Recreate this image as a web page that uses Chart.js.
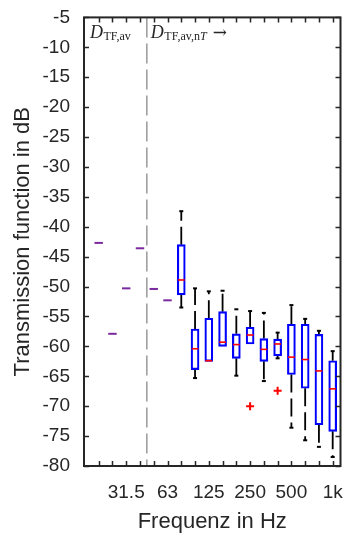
<!DOCTYPE html>
<html>
<head>
<meta charset="utf-8">
<script src="https://cdn.jsdelivr.net/npm/chart.js@4.4.1/dist/chart.umd.min.js"></script>
<style>
  html, body { margin: 0; padding: 0; background: #fff; }
</style>
</head>
<body>
<canvas id="tfChart" width="350" height="539"></canvas>
<script>
// third-octave bands, 20 Hz .. 1 kHz
const bandLabels = ['20', '25', '31.5', '40', '50', '63', '80', '100', '125', '160', '200', '250', '315', '400', '500', '630', '800', '1k'];
const labelledBands = ['31.5', '63', '125', '250', '500', '1k'];

// bands with one value only (D_TF,av and first D_TF,av,nT bands)
const singleBands = ['20', '25', '31.5', '40', '50', '63'];
const singleValues = [-42.7, -57.9, -50.3, -43.6, -50.4, -52.3];

// box plot bands
const boxBands   = ['80', '100', '125', '160', '200', '250', '315', '400', '500', '630', '800', '1k'];
const whiskerHi  = [-37.4, -50.3, -50.8, -50.7, -53.8, -54.1, -54.4, -57.7, -53.1, -55.4, -57.4, -60.8];
const upperQ     = [-43.0, -57.1, -55.3, -54.2, -57.9, -56.8, -58.7, -58.8, -56.3, -56.3, -58.0, -62.4];
const medians    = [-48.9, -60.4, -62.4, -59.3, -59.7, -58.1, -60.5, -59.6, -61.8, -62.2, -64.1, -67.1];
const lowerQ     = [-51.4, -63.9, -62.5, -60.0, -62.0, -59.6, -62.5, -61.6, -64.7, -67.0, -73.1, -74.2];
const whiskerLo  = [-53.5, -65.3, -62.5, -60.0, -64.9, -59.6, -65.8, -62.0, -73.6, -75.7, -76.8, -78.5];

const outlierBands  = ['250', '400'];
const outlierValues = [-70.0, -67.4];

// y axis
const yMin = -80, yMax = -5, yStep = 5;
// boundary between D_TF,av and D_TF,av,nT (between 40 and 50 Hz)
const splitAfter = '40';

const idx = (b) => bandLabels.indexOf(b);
const splitX = idx(splitAfter) + 0.5;

const whiskerData = [];
boxBands.forEach((b, k) => {
  whiskerData.push({ x: idx(b), y: upperQ[k] }, { x: idx(b), y: whiskerHi[k] }, { x: idx(b), y: null });
  whiskerData.push({ x: idx(b), y: lowerQ[k] }, { x: idx(b), y: whiskerLo[k] }, { x: idx(b), y: null });
});
const capData = [];
boxBands.forEach((b, k) => {
  if (whiskerHi[k] !== upperQ[k]) capData.push({ x: idx(b), y: whiskerHi[k] });
  if (whiskerLo[k] !== lowerQ[k]) capData.push({ x: idx(b), y: whiskerLo[k] });
});

const frameAndNotes = {
  id: 'frameAndNotes',
  afterDraw(chart) {
    const { ctx, chartArea: a, scales } = chart;
    const xs = scales.x, ys = scales.y;
    ctx.save();
    ctx.strokeStyle = '#262626';
    ctx.lineWidth = 1.5;
    ctx.beginPath();
    // inward ticks
    ys.ticks.forEach(t => {
      const y = Math.round(ys.getPixelForValue(t.value)) + 0.5;
      ctx.moveTo(a.left, y); ctx.lineTo(a.left + 5, y);
      ctx.moveTo(a.right, y); ctx.lineTo(a.right - 5, y);
    });
    bandLabels.forEach((b, i) => {
      const x = Math.round(xs.getPixelForValue(i)) + 0.5;
      ctx.moveTo(x, a.bottom); ctx.lineTo(x, a.bottom - 5);
      ctx.moveTo(x, a.top); ctx.lineTo(x, a.top + 5);
    });
    ctx.stroke();
    ctx.lineWidth = 2;
    ctx.strokeRect(a.left, a.top, a.right - a.left, a.bottom - a.top);

    // region notes
    ctx.fillStyle = '#262626';
    ctx.textBaseline = 'alphabetic';
    const base = a.top + 20.5;
    let x = a.left + 6;
    ctx.font = 'italic 18px "Liberation Serif"';
    ctx.fillText('D', x, base); x += ctx.measureText('D').width + 0.5;
    ctx.font = '12px "Liberation Serif"';
    ctx.fillText('TF,av', x, base + 2.5);

    x = xs.getPixelForValue(splitX) + 4;
    ctx.font = 'italic 18px "Liberation Serif"';
    ctx.fillText('D', x, base); x += ctx.measureText('D').width + 0.5;
    ctx.font = '12px "Liberation Serif"';
    ctx.fillText('TF,av,n', x, base + 2.5); x += ctx.measureText('TF,av,n').width;
    ctx.font = 'italic 12px "Liberation Serif"';
    ctx.fillText('T', x, base + 2.5); x += ctx.measureText('T').width + 6;
    ctx.font = '17px "DejaVu Serif"';
    ctx.fillText('\u2192', x, base);
    ctx.restore();
  }
};

new Chart(document.getElementById('tfChart'), {
  type: 'bar',
  data: {
    datasets: [
      {
        type: 'scatter', label: 'outliers',
        data: outlierBands.map((b, k) => ({ x: idx(b), y: outlierValues[k] })),
        pointStyle: 'cross', pointRadius: 4, borderColor: '#ff0000', borderWidth: 2, clip: false
      },
      {
        type: 'scatter', label: 'median',
        data: boxBands.map((b, k) => ({ x: idx(b), y: medians[k] })),
        pointStyle: 'line', pointRadius: 3.4, borderColor: '#ff0000', borderWidth: 1.6, clip: false
      },
      {
        type: 'scatter', label: 'single',
        data: singleBands.map((b, k) => ({ x: idx(b), y: singleValues[k] })),
        pointStyle: 'line', pointRadius: 4.2, borderColor: '#7a2a9e', borderWidth: 2, clip: false
      },
      {
        type: 'scatter', label: 'caps',
        data: capData,
        pointStyle: 'line', pointRadius: 2, borderColor: '#000', borderWidth: 2, clip: false
      },
      {
        type: 'bar', label: 'boxes',
        data: boxBands.map((b, k) => ({ x: idx(b), y: [lowerQ[k], upperQ[k]] })),
        backgroundColor: 'rgba(0,0,0,0)', borderColor: '#0000ff', borderWidth: 1.5,
        borderSkipped: false, barThickness: 8, grouped: false, clip: false
      },
      {
        type: 'line', label: 'whiskers',
        data: whiskerData,
        borderColor: '#000', borderWidth: 1.8, borderDash: [18, 6], pointRadius: 0,
        spanGaps: false, clip: false
      },
      {
        type: 'line', label: 'split',
        data: [{ x: splitX, y: yMax }, { x: splitX, y: yMin }],
        borderColor: '#7f7f7f', borderWidth: 1.2, borderDash: [20, 6], pointRadius: 0
      }
    ]
  },
  options: {
    responsive: false,
    animation: false,
    devicePixelRatio: 1,
    layout: { padding: { left: 0, right: 9, top: 15, bottom: 0 } },
    plugins: { legend: { display: false }, tooltip: { enabled: false } },
    scales: {
      x: {
        type: 'linear',
        min: -0.55, max: 17.05,
        grid: { display: false },
        border: { display: false },
        afterBuildTicks: (s) => { s.ticks = bandLabels.map((b, i) => ({ value: i })); },
        afterFit: (s) => { s.height = 73; },
        ticks: {
          autoSkip: false, maxRotation: 0, padding: 7,
          color: '#262626', font: { family: 'Liberation Sans', size: 19 },
          callback: (v) => labelledBands.includes(bandLabels[v]) ? bandLabels[v] : ''
        },
        title: {
          display: true, text: 'Frequenz in Hz', color: '#262626',
          font: { family: 'Liberation Sans', size: 22 }, padding: { top: 4, bottom: 4 }
        }
      },
      y: {
        min: yMin, max: yMax,
        grid: { display: false },
        border: { display: false },
        afterFit: (s) => { s.width = 84; },
        ticks: {
          stepSize: yStep, autoSkip: false, padding: 6,
          color: '#262626', font: { family: 'Liberation Sans', size: 19 }
        },
        title: {
          display: true, text: 'Transmission function in dB', color: '#262626',
          font: { family: 'Liberation Sans', size: 22 }, padding: { top: 10, bottom: 0 }
        }
      }
    }
  },
  plugins: [frameAndNotes]
});
</script>
</body>
</html>
